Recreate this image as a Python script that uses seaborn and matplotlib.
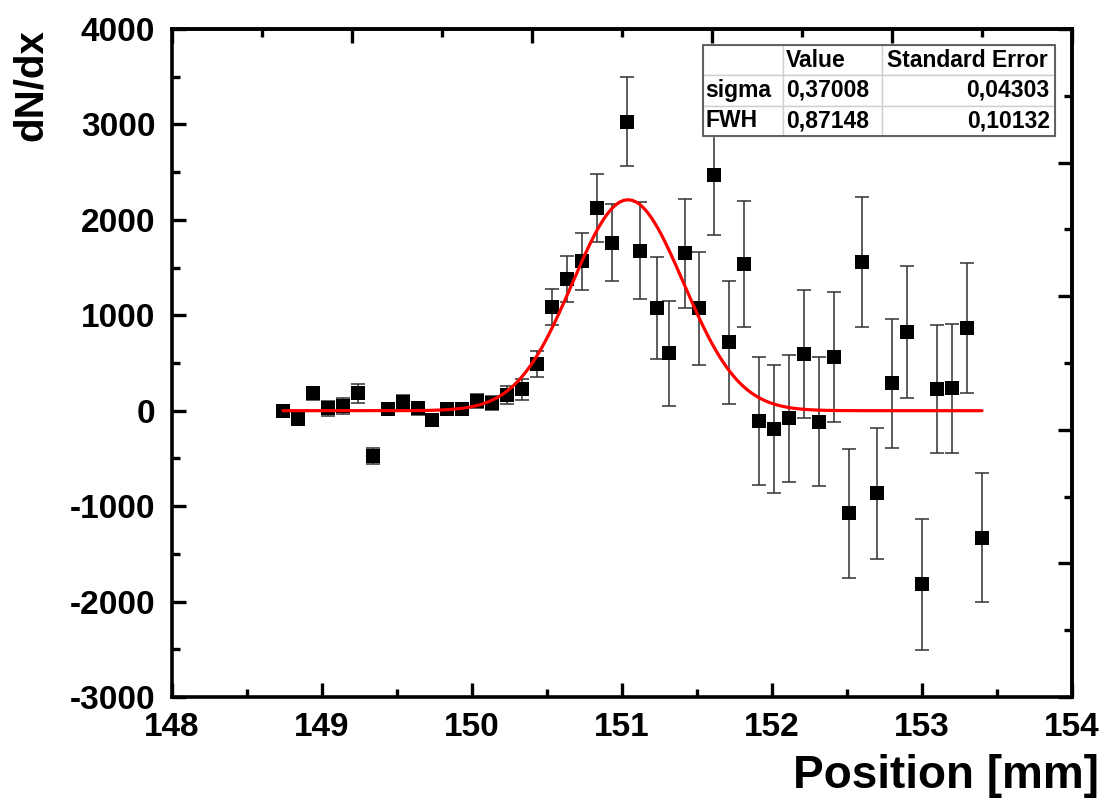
import numpy as np
import matplotlib
matplotlib.use('Agg')
import matplotlib.pyplot as plt
from matplotlib.patches import Rectangle
from matplotlib.ticker import MultipleLocator
import seaborn as sns

sns.set_theme(style='ticks')
plt.rcParams['font.family'] = ['Liberation Sans', 'DejaVu Sans']
plt.rcParams['font.weight'] = 'bold'
plt.rcParams['axes.unicode_minus'] = False
for key in ['text.color', 'axes.labelcolor', 'xtick.color', 'ytick.color', 'axes.edgecolor']:
    plt.rcParams[key] = 'black'

# measured points
position = [148.74, 148.84, 148.94, 149.04, 149.14, 149.24, 149.34, 149.44, 149.54, 149.64,
            149.73, 149.83, 149.93, 150.03, 150.13, 150.23, 150.33, 150.43, 150.53, 150.63,
            150.73, 150.83, 150.93, 151.03, 151.12, 151.23, 151.31, 151.42, 151.51, 151.61,
            151.71, 151.81, 151.91, 152.01, 152.11, 152.21, 152.31, 152.41, 152.51, 152.60,
            152.70, 152.80, 152.90, 153.00, 153.10, 153.20, 153.30, 153.40]
dndx = [-3, -87, 182, 25, 49, 182, -475, 18, 94, 25,
        -97, 20, 20, 100, 80, 164, 224, 489, 1090, 1377,
        1567, 2127, 1761, 3029, 1677, 1073, 601, 1649, 1073, 2470,
        717, 1537, -105, -192, -80, 594, -115, 559, -1075, 1555,
        -866, 287, 828, -1819, 224, 235, 863, -1331]
dndx_err = [50, 58, 66, 80, 87, 101, 84, 52, 66, 70,
            66, 50, 55, 70, 75, 94, 113, 140, 190, 241,
            300, 355, 405, 464, 506, 534, 550, 569, 590, 629,
            646, 662, 673, 669, 667, 669, 676, 681, 679, 681,
            686, 679, 690, 685, 669, 674, 681, 678]

# gaussian fit result
fit_center = 151.04
fit_amp = 2210
fit_sigma = 0.37008

table_rows = [['', 'Value', 'Standard Error'],
              ['sigma', '0,37008', '0,04303'],
              ['FWH', '0,87148', '0,10132']]

fig = plt.figure(figsize=(11.06, 8.02), dpi=100)
ax = fig.add_axes([172 / 1106, 1 - 697 / 802, 900 / 1106, 668 / 802])

ax.errorbar(position, dndx, yerr=dndx_err, fmt='none', ecolor='#303030',
            elinewidth=1.1, capsize=4.8, capthick=1.1, zorder=2)
sns.scatterplot(x=position, y=dndx, marker='s', s=100, color='black',
                edgecolor='black', linewidth=0, ax=ax, zorder=3)

xf = np.linspace(min(position), max(position), 400)
yf = fit_amp * np.exp(-(xf - fit_center) ** 2 / (2 * fit_sigma ** 2))
sns.lineplot(x=xf, y=yf, color='red', linewidth=2.3, ax=ax, zorder=4)

ax.set_xlim(148, 154)
ax.set_ylim(-3000, 4000)
ax.xaxis.set_major_locator(MultipleLocator(1))
ax.xaxis.set_minor_locator(MultipleLocator(0.5))
ax.yaxis.set_major_locator(MultipleLocator(1000))
ax.yaxis.set_minor_locator(MultipleLocator(500))
ax.tick_params(which='major', direction='in', length=10, width=2.4, labelsize=24, color='black')
ax.tick_params(which='minor', direction='in', length=5.5, width=2.4, color='black')
ax.tick_params(axis='y', which='major', pad=12)
ax.tick_params(axis='x', which='major', pad=11)
for s in ax.spines.values():
    s.set_linewidth(2.6)
    s.set_color('black')

# Origin-style top/right axes with their own divisions
top = ax.secondary_xaxis('top', functions=(lambda v: (v - 148) / 6 * 5, lambda t: t / 5 * 6 + 148))
right = ax.secondary_yaxis('right', functions=(lambda v: (v + 3000) / 7000 * 5, lambda t: t / 5 * 7000 - 3000))
for sec in (top, right):
    axis = sec.xaxis if sec is top else sec.yaxis
    axis.set_major_locator(MultipleLocator(1))
    axis.set_minor_locator(MultipleLocator(0.5))
    sec.tick_params(which='major', direction='in', length=10, width=2.4, labelsize=0, color='black')
    sec.tick_params(which='minor', direction='in', length=5.5, width=2.4, color='black')
    axis.set_ticklabels([])
    for s in sec.spines.values():
        s.set_linewidth(2.6)
        s.set_color('black')

ax.set_ylabel('dN/dx', fontsize=29, fontweight='bold', loc='top')
ax.yaxis.set_label_coords(-0.136, 1.0)
ax.set_xlabel('Position [mm]', fontsize=33, fontweight='bold')
ax.xaxis.set_label_coords(0.86, -0.085)

# fit parameter table
tx0, tx1 = (703 - 172) / 900, (1055 - 172) / 900
ty0, ty1 = (697 - 136) / 668, (697 - 45) / 668
tbl = ax.table(cellText=table_rows, colWidths=[80, 99, 173],
               bbox=[tx0, ty0, tx1 - tx0, ty1 - ty0], zorder=10)
tbl.auto_set_font_size(False)
tbl.set_fontsize(16.5)
for (r, c), cell in tbl.get_celld().items():
    cell.set_edgecolor('#cfcfcf')
    cell.set_linewidth(1)
    cell.set_facecolor('white')
    cell.PAD = 0.03
    cell.get_text().set_fontweight('bold')
    cell.get_text().set_color('black')
    cell._loc = 'right' if (c == 2 and r > 0) else 'left'
    cell.get_text().set_ha(cell._loc)
tbl.set_zorder(10)
ax.add_patch(Rectangle((tx0, ty0), tx1 - tx0, ty1 - ty0, transform=ax.transAxes,
                       fill=False, edgecolor='#555555', linewidth=1.3, zorder=11, clip_on=False))

fig.savefig('out.png', dpi=100)
